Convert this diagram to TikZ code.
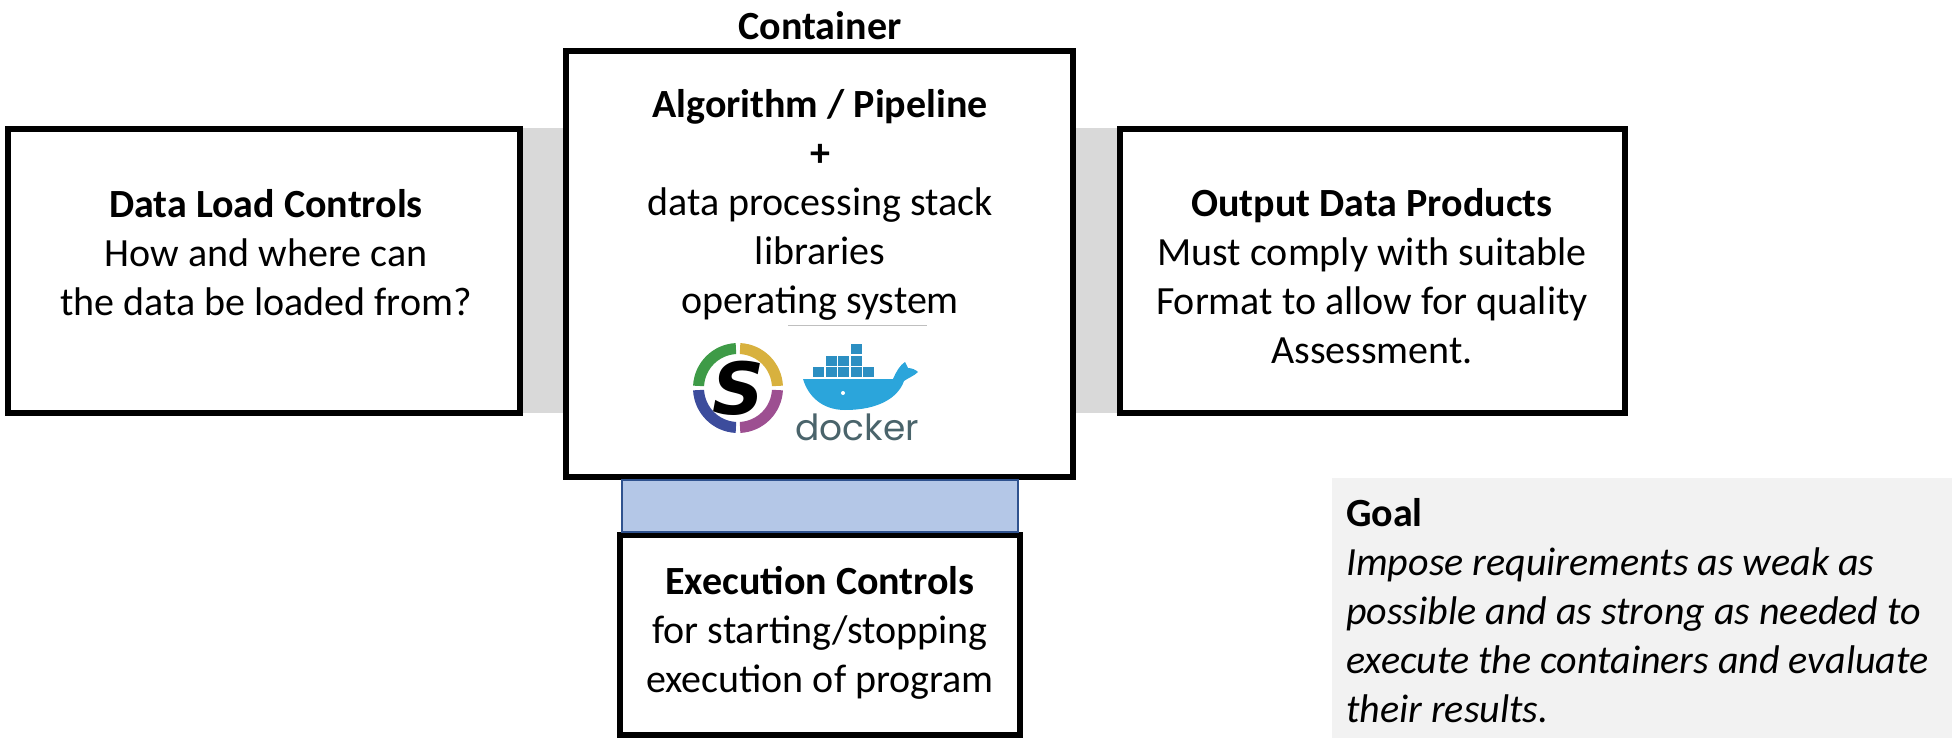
\documentclass[tikz,border=0pt]{standalone}
\usepackage{fontspec}
\setmainfont{Carlito}
\newfontfamily\logofont{DejaVu Sans}
\newfontfamily\dockerfont{Poppins}
\usetikzlibrary{positioning}
\usetikzlibrary{calc}

\definecolor{bargray}{HTML}{D9D9D9}
\definecolor{barblue}{HTML}{B4C7E7}
\definecolor{barblueline}{HTML}{2F528F}
\definecolor{goalgray}{HTML}{F2F2F2}
\definecolor{sygreen}{HTML}{3E9B47}
\definecolor{sygold}{HTML}{D8B13E}
\definecolor{sypurple}{HTML}{9D4F91}
\definecolor{syblue}{HTML}{3C4C9C}
\definecolor{whaleblue}{HTML}{2BA5DB}
\definecolor{crateblue}{HTML}{2C8FC2}
\definecolor{dockergray}{HTML}{4A646B}

\tikzset{
  box/.style={draw, rectangle, line width=6pt, inner sep=0pt},
  boxtext/.style={align=center, anchor=base, inner sep=0pt,
    font=\fontsize{40}{49}\selectfont},
}

\begin{document}
\begin{tikzpicture}[x=1pt, y=-1pt]
    \useasboundingbox (0,0) rectangle (1952,738);
        % the four boxes
        \node[box, minimum width=512pt, minimum height=284pt] (load) at (264,271) {};
        \node[box, minimum width=507pt, minimum height=426pt] (cont) at (819.5,264) {};
        \node[box, minimum width=505pt, minimum height=284pt] (out) at (1372.5,271) {};
        \node[box, minimum width=400pt, minimum height=200pt] (exec) at (820,635) {};
        \node[fill=goalgray, inner sep=0pt, minimum width=620pt,
            minimum height=260pt] (goal) at (1642,608) {};
        % interfaces between the boxes
        \fill[bargray] ([yshift=-2pt]load.north east) rectangle
            ([yshift=3pt]load.south east -| cont.west);
        \fill[bargray] ([yshift=-2pt]out.north west -| cont.east) rectangle
            ([yshift=3pt]out.south west);
        \filldraw[fill=barblue, draw=barblueline, line width=1.5pt]
            ([xshift=5pt]exec.north west |- cont.south) rectangle
            ([xshift=-5pt]exec.north east);
        % texts
        \node[boxtext] (contlabel) at (820,40) {\textbf{Container}};
        \node[boxtext] (loadtxt) at (266,315)
        {\textbf{Data Load Controls}\\How and where can\\the data be loaded from?};
        \node[boxtext] (conttxt) at (820,313)
        {\textbf{Algorithm / Pipeline}\\\textbf{+}\\data processing stack\\libraries\\operating system};
        \node[boxtext] (outtxt) at (1372,363)
        {\textbf{Output Data Products}\\Must comply with suitable\\Format to allow for quality\\Assessment.};
        \node[boxtext] (exectxt) at (820,692)
        {\textbf{Execution Controls}\\for starting/stopping\\execution of program};
        \node[boxtext, align=left, anchor=base west] (goaltxt) at (1346,722)
        {\textbf{Goal}\\\textit{Impose requirements as weak as}\\\textit{possible and as strong as needed to}\\\textit{execute the containers and evaluate}\\\textit{their results.}};
        \draw[black!25, line width=1pt] ([xshift=-32pt,yshift=-12pt]conttxt.base)
            -- ([xshift=107pt,yshift=-12pt]conttxt.base);
        % singularity logo
        \begin{scope}[shift={(738,388)}]
            \foreach \a/\c in {0/sypurple, 90/syblue, 180/sygreen, 270/sygold}
                \fill[\c] ({\a+3}:45) arc[start angle=\a+3, end angle=\a+87, radius=45]
                    -- ({\a+87}:34) arc[start angle=\a+87, end angle=\a+3, radius=34] -- cycle;
            \node[inner sep=0pt, font=\logofont\bfseries\itshape\fontsize{72}{72}\selectfont]
                (sylogo) at (0,0) {S};
        \end{scope}
        % docker logo
        \fill[whaleblue] (803,379) -- (893,379) .. controls (896,372) and (900,365) .. (905,362)
            -- (908,368) .. controls (912,368) and (916,370) .. (918,372)
            .. controls (914,376) and (908,378) .. (904,381)
            .. controls (898,398) and (878,410) .. (845,410)
            .. controls (822,410) and (808,396) .. (803,379) -- cycle;
        \fill[white] (843,393) circle[radius=2];
        \foreach \i/\j in {0/0,1/0,2/0,3/0,4/0,1/1,2/1,3/1,3/2}
            \fill[crateblue] (813+12.5*\i,367-11.5*\j) rectangle ++(11,10);
        \node[inner sep=0pt, text=dockergray, font=\dockerfont\fontsize{36}{36}\selectfont,
            anchor=base] (dockerlogo) at (857,440) {docker};
\end{tikzpicture}
\end{document}
